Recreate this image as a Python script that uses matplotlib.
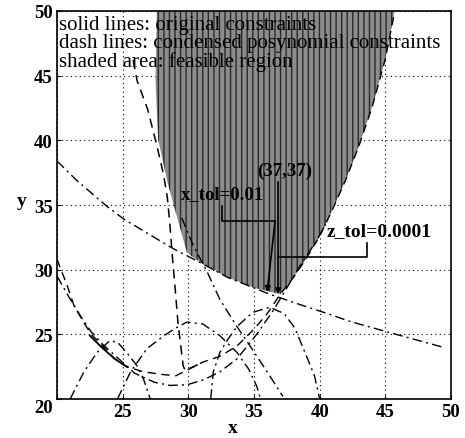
import matplotlib
matplotlib.use("Agg")
import matplotlib.pyplot as plt

plt.rcParams["font.family"] = "serif"
plt.rcParams["font.serif"] = ["Liberation Serif", "DejaVu Serif"]
plt.rcParams["hatch.linewidth"] = 1.0

# ---- данные ----
x_ticks = [20, 25, 30, 35, 40, 45, 50]
x_tick_labels = ["", "25", "30", "35", "40", "45", "50"]
y_ticks = [20, 25, 30, 35, 40, 45, 50]

# допустимая область (заштрихованная)
region_x = [27.6, 27.5, 27.7, 28.4, 29.1, 29.9, 31.0, 33.0, 35.0, 37.0,
            38.0, 39.0, 40.0, 41.0, 42.0, 43.0, 44.0, 45.0, 45.7]
region_y = [50.0, 44.6, 40.1, 36.8, 34.2, 31.3, 30.5, 29.4, 28.6, 28.1,
            29.4, 30.9, 32.6, 34.7, 37.0, 39.6, 42.6, 46.3, 50.0]

# длинная штрих-пунктирная кривая сверху слева вниз направо
c1_x = [20.0, 21.5, 23.8, 25.1, 27.4, 28.9, 31.0, 33.0, 36.2, 38.5, 40.6, 42.3, 45.1, 49.4]
c1_y = [38.4, 36.9, 34.9, 33.9, 32.5, 31.6, 30.5, 29.4, 28.1, 27.3, 26.6, 26.0, 25.2, 24.0]

# U-образная кривая (верхняя), правая ветвь - граница области
ca_x = [20.0, 20.8, 21.3, 22.05, 22.6, 23.3, 24.3, 25.3, 26.6, 28.0, 29.06,
        31.1, 32.4, 33.7, 35.0, 36.0, 37.0, 38.0, 39.0, 40.0, 41.0, 42.0,
        43.0, 44.0, 45.0, 45.7]
ca_y = [30.8, 28.7, 27.2, 25.9, 25.0, 24.3, 23.2, 22.5, 22.1, 21.9, 21.8,
        22.85, 23.3, 24.1, 25.4, 26.6, 28.1, 29.4, 30.9, 32.6, 34.7, 37.0,
        39.6, 42.6, 46.3, 49.9]

# исходное ограничение (сплошная линия)
sa_x = [22.5, 23.4, 24.4, 25.3]
sa_y = [24.9, 24.0, 23.1, 22.5]

# нижняя U-образная кривая
cb_x = [20.0, 20.9, 21.8, 22.6, 23.5, 24.6, 25.9, 27.4, 28.6, 29.9, 31.2,
        32.4, 33.7, 35.2, 36.5, 37.5, 38.5, 39.8, 40.6]
cb_y = [29.5, 27.9, 26.4, 25.2, 24.2, 23.2, 22.0, 21.3, 21.05, 21.1, 21.5,
        22.1, 23.1, 25.0, 26.9, 28.6, 30.3, 32.3, 33.8]

# почти вертикальная штриховая кривая
cv_x = [25.8, 26.1, 26.9, 27.6, 28.1, 28.4, 28.6, 28.8, 29.0, 29.2, 29.4,
        29.6, 29.75, 30.5, 31.1]
cv_y = [46.2, 44.6, 42.4, 39.6, 37.4, 35.6, 33.4, 30.8, 28.5, 26.0, 24.3,
        22.6, 22.2, 22.55, 22.85]

# дуги внизу
cc_x = [24.6, 25.6, 26.85, 28.15, 29.06, 29.9, 31.1, 32.4, 33.7, 34.6, 35.2, 35.5]
cc_y = [20.0, 22.1, 23.9, 24.9, 25.5, 25.95, 25.8, 24.9, 23.6, 22.3, 21.0, 20.0]

cd_x = [21.0, 22.05, 23.05, 24.0, 24.6, 25.3, 26.1, 26.6, 27.1]
cd_y = [20.0, 22.1, 23.6, 24.5, 24.4, 23.6, 22.55, 21.5, 20.0]

ce_x = [31.7, 31.9, 32.4, 33.0, 33.7, 34.9, 36.2, 37.3, 38.1, 39.0, 39.6, 40.0]
ce_y = [20.0, 22.1, 23.6, 24.6, 25.6, 26.7, 27.1, 26.6, 25.5, 23.3, 21.8, 20.0]

# наклонная прямая
cf_x = [29.5, 30.4, 31.4, 32.4, 33.7, 34.7, 36.0, 37.2]
cf_y = [34.0, 31.8, 29.9, 27.7, 25.6, 24.1, 22.1, 20.2]

legend_lines = ["solid lines: original constraints",
                "dash lines: condensed posynomial constraints",
                "shaded area: feasible region"]

DASHDOT = (0, (7, 3, 1.5, 3))
DASHED = (0, (6, 4))

fig = plt.figure(figsize=(4.65, 4.39), dpi=100)
ax = fig.add_axes([0.1226, 0.0888, 0.8474, 0.8839])

ax.fill(region_x, region_y, facecolor="#8c8c8c", edgecolor="#2a2a2a",
        hatch="|||", linewidth=0, zorder=1)

ax.plot(c1_x, c1_y, color="k", lw=1.0, ls=DASHDOT, zorder=3)
ax.plot(ca_x, ca_y, color="k", lw=1.0, ls=DASHED, zorder=3)
ax.plot(sa_x, sa_y, color="k", lw=1.3, ls="-", zorder=3)
ax.plot(cb_x, cb_y, color="k", lw=1.0, ls=DASHDOT, zorder=3)
ax.plot(cv_x, cv_y, color="k", lw=1.1, ls=DASHED, zorder=3)
ax.plot(cc_x, cc_y, color="k", lw=1.0, ls=DASHDOT, zorder=3)
ax.plot(cd_x, cd_y, color="k", lw=1.0, ls=DASHDOT, zorder=3)
ax.plot(ce_x, ce_y, color="k", lw=1.0, ls=DASHDOT, zorder=3)
ax.plot(cf_x, cf_y, color="k", lw=1.0, ls=DASHDOT, zorder=3)

# подписи со стрелками
ax.plot([32.57, 32.57, 36.6], [34.9, 33.76, 33.76], color="k", lw=1.2, zorder=4)
ax.annotate("", xy=(36.0, 28.27), xytext=(36.6, 33.76),
            arrowprops=dict(arrowstyle="-|>", color="k", lw=1.2,
                            mutation_scale=8, shrinkA=0, shrinkB=0), zorder=4)
ax.plot([43.6, 43.6, 36.83], [32.1, 31.0, 31.0], color="k", lw=1.2, zorder=4)
ax.annotate("", xy=(36.83, 28.1), xytext=(36.83, 36.8),
            arrowprops=dict(arrowstyle="-|>", color="k", lw=1.2,
                            mutation_scale=8, shrinkA=0, shrinkB=0), zorder=4)

ax.text(37.36, 37.7, "(37,37)", ha="center", va="center", fontsize=13.5,
        fontweight="bold", zorder=5)
ax.text(32.6, 35.9, "x_tol=0.01", ha="center", va="center", fontsize=13.5,
        fontweight="bold", zorder=5)
ax.text(44.5, 33.0, "z_tol=0.0001", ha="center", va="center", fontsize=14,
        fontweight="bold", zorder=5)

for i, line in enumerate(legend_lines):
    ax.text(0.006, 0.966 - i * 0.047, line, transform=ax.transAxes,
            ha="left", va="center", fontsize=15, zorder=5)

ax.set_xlim(20, 50)
ax.set_ylim(20, 50)
ax.set_xticks(x_ticks)
ax.set_xticklabels(x_tick_labels)
ax.set_yticks(y_ticks)
ax.grid(True, color="k", ls=(0, (1, 3)), lw=0.8)
ax.set_axisbelow(True)
ax.tick_params(direction="in", length=3, labelsize=13.5, pad=3)
for lab in ax.get_xticklabels() + ax.get_yticklabels():
    lab.set_fontweight("bold")
# нижняя "20" стоит в углу, чуть ниже оси
ax.get_yticklabels()[0].set_va("top")
for s in ax.spines.values():
    s.set_linewidth(1.2)

ax.set_xlabel("x", fontsize=14, fontweight="bold")
ax.xaxis.set_label_coords(0.447, -0.052)
ax.set_ylabel("y", fontsize=14, fontweight="bold", rotation=0)
ax.yaxis.set_label_coords(-0.089, 0.49)

plt.savefig("out.png", dpi=100)
plt.close()
